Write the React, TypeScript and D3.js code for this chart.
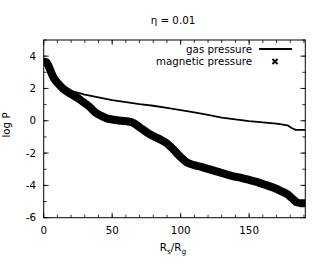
import React from "react";
import * as d3 from "d3";

const gasX = [0, 3, 6, 10, 14, 20, 30, 40, 50, 60, 70, 80, 90, 100, 110, 120, 130, 140, 150, 160, 170, 178, 181, 184, 191];
const gasY = [3.65, 3.2, 2.7, 2.3, 2.05, 1.85, 1.62, 1.45, 1.28, 1.15, 1.03, 0.93, 0.8, 0.66, 0.52, 0.37, 0.2, 0.08, -0.02, -0.1, -0.18, -0.28, -0.45, -0.56, -0.56];

const magX = [0, 2, 4, 7, 10, 14, 20, 25, 29, 33, 38, 42, 46, 50, 55, 60, 65, 70, 75, 80, 85, 90, 95, 100, 104, 110, 115, 120, 126, 132, 138, 145, 150, 156, 162, 168, 174, 178, 182, 185, 188, 191];
const magY = [3.65, 3.62, 3.3, 2.7, 2.35, 2.0, 1.65, 1.4, 1.15, 0.9, 0.5, 0.3, 0.15, 0.08, 0.02, -0.02, -0.12, -0.4, -0.7, -0.95, -1.15, -1.4, -1.8, -2.25, -2.55, -2.75, -2.85, -2.98, -3.13, -3.28, -3.42, -3.55, -3.66, -3.8, -3.97, -4.15, -4.38, -4.55, -4.85, -5.05, -5.1, -5.1];

const xTicks = [0, 50, 100, 150];
const yTicks = [-6, -4, -2, 0, 2, 4];
const xMinor = [0, 10, 20, 30, 40, 50, 60, 70, 80, 90, 100, 110, 120, 130, 140, 150, 160, 170, 180, 190];
const yMinor = [-6, -5, -4, -3, -2, -1, 0, 1, 2, 3, 4, 5];

export default function App() {
  const W = 327, H = 273;
  const L = 43.7, R = 305.3, T = 40, B = 217.7;
  const x = d3.scaleLinear().domain([0, 191]).range([L, R]);
  const y = d3.scaleLinear().domain([-6, 5]).range([B, T]);
  const font = "'DejaVu Sans', sans-serif";
  const fs = 10.3;

  const gasLine = d3.line<number>().x((_, i) => x(gasX[i])).y((d) => y(d));
  const magLine = d3.line<number>().x((_, i) => x(magX[i])).y((d) => y(d)).curve(d3.curveMonotoneX);

  return (
    <svg width={W} height={H} style={{ position: "absolute", left: 0, top: 0, background: "#fff" }}>
      <defs>
        <clipPath id="plot">
          <rect x={L} y={T} width={R - L} height={B - T} />
        </clipPath>
      </defs>
      <text x={173} y={24} textAnchor="middle" fontFamily={font} fontSize={fs}>η = 0.01</text>

      {/* minor ticks */}
      {xMinor.map((v) => (
        <g key={"xm" + v}>
          <line x1={x(v)} x2={x(v)} y1={B} y2={B - 3} stroke="#000" strokeWidth={0.8} />
          <line x1={x(v)} x2={x(v)} y1={T} y2={T + 3} stroke="#000" strokeWidth={0.8} />
        </g>
      ))}
      {yMinor.map((v) => (
        <g key={"ym" + v}>
          <line x1={L} x2={L + 3} y1={y(v)} y2={y(v)} stroke="#000" strokeWidth={0.8} />
          <line x1={R} x2={R - 3} y1={y(v)} y2={y(v)} stroke="#000" strokeWidth={0.8} />
        </g>
      ))}
      {xTicks.map((v) => (
        <g key={"x" + v}>
          <line x1={x(v)} x2={x(v)} y1={B} y2={B - 5} stroke="#000" strokeWidth={0.8} />
          <line x1={x(v)} x2={x(v)} y1={T} y2={T + 5} stroke="#000" strokeWidth={0.8} />
          <text x={x(v)} y={233.5} textAnchor="middle" fontFamily={font} fontSize={fs}>{v}</text>
        </g>
      ))}
      {yTicks.map((v) => (
        <g key={"y" + v}>
          <line x1={L} x2={L + 5} y1={y(v)} y2={y(v)} stroke="#000" strokeWidth={0.8} />
          <line x1={R} x2={R - 5} y1={y(v)} y2={y(v)} stroke="#000" strokeWidth={0.8} />
          <text x={36} y={y(v) + 3.7} textAnchor="end" fontFamily={font} fontSize={fs}>{v}</text>
        </g>
      ))}

      <rect x={L} y={T} width={R - L} height={B - T} fill="none" stroke="#000" strokeWidth={1} />

      <g clipPath="url(#plot)">
        <path d={magLine(magY) || ""} fill="none" stroke="#000" strokeWidth={8} strokeLinejoin="round" />
        <path d={gasLine(gasY) || ""} fill="none" stroke="#000" strokeWidth={1.8} strokeLinejoin="round" />
      </g>

      {/* legend */}
      <text x={252} y={52.5} textAnchor="end" fontFamily={font} fontSize={fs}>gas pressure</text>
      <line x1={259} x2={292} y1={49} y2={49} stroke="#000" strokeWidth={2} />
      <text x={252} y={65} textAnchor="end" fontFamily={font} fontSize={fs}>magnetic pressure</text>
      <path d="M272.5,59 L277.5,64 M277.5,59 L272.5,64" stroke="#000" strokeWidth={2} />

      <text transform="translate(10,125) rotate(-90)" textAnchor="middle" fontFamily={font} fontSize={fs}>log P</text>
      <text x={173} y={251} textAnchor="middle" fontFamily={font} fontSize={fs}>
        R<tspan fontSize={7.5} dy={2.5}>s</tspan><tspan dy={-2.5}>/R</tspan><tspan fontSize={7.5} dy={2.5}>g</tspan>
      </text>
    </svg>
  );
}
